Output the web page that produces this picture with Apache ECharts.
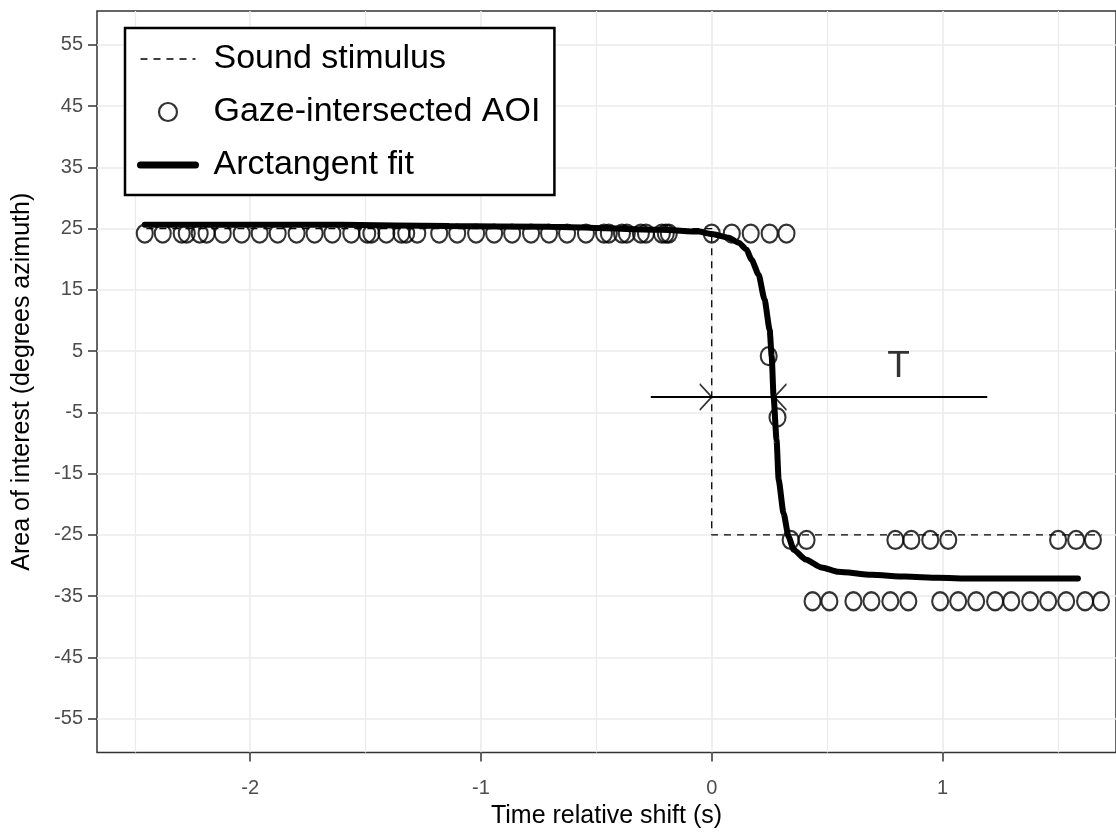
<!DOCTYPE html>
<html>
<head>
<meta charset="utf-8">
<script src="https://cdn.jsdelivr.net/npm/echarts@6/dist/echarts.min.js"></script>
<style>
  html, body { margin: 0; padding: 0; background: #fff; }
  #chart { width: 1116px; height: 837px; }
</style>
</head>
<body>
<div id="chart"></div>
<script>
// sound stimulus (step from +25 to -25 at t = 0)
var stimTime = [-2.45, 0, 0, 1.69];
var stimAoi = [25, 25, -25, -25];

// gaze-intersected AOI samples
var gazeTime = [
    -2.457, -2.379, -2.297, -2.275, -2.219, -2.189, -2.119, -2.037, -1.959, -1.881,
    -1.799, -1.721, -1.644, -1.562, -1.493, -1.475, -1.410, -1.345, -1.324, -1.276,
    -1.181, -1.103, -1.021, -0.943, -0.865, -0.783, -0.705, -0.627, -0.545, -0.467,
    -0.446, -0.389, -0.368, -0.307, -0.285, -0.216, -0.199, -0.186,
    0.000, 0.087, 0.169, 0.251, 0.324,
    0.247, 0.285,
    0.342, 0.411, 0.796, 0.865, 0.947, 1.025, 1.501, 1.579, 1.652,
    0.437, 0.510, 0.614, 0.692, 0.774, 0.852, 0.990, 1.068, 1.146, 1.228,
    1.298, 1.380, 1.458, 1.536, 1.618, 1.687
];
var gazeAoi = [
    25, 25, 25, 25, 25, 25, 25, 25, 25, 25,
    25, 25, 25, 25, 25, 25, 25, 25, 25, 25,
    25, 25, 25, 25, 25, 25, 25, 25, 25, 25,
    25, 25, 25, 25, 25, 25, 25, 25,
    25, 25, 25, 25, 25,
    5, -5,
    -25, -25, -25, -25, -25, -25, -25, -25, -25,
    -35, -35, -35, -35, -35, -35, -35, -35, -35, -35,
    -35, -35, -35, -35, -35, -35
];

// arctangent fit
var fitTime = [-2.457, -1.6, -1.138, -0.705, -0.216, -0.056, 0, 0.074, 0.117, 0.150, 0.173, 0.203,
    0.229, 0.251, 0.260, 0.268, 0.281, 0.290, 0.311, 0.333, 0.355, 0.407, 0.476, 0.549,
    0.692, 0.839, 0.982, 1.125, 1.587];
var fitAoi = [25.6, 25.6, 25.4, 25.3, 24.8, 24.5, 24.1, 23.5, 22.7, 21.6, 19.9, 17.5,
    13.4, 8.5, 4.1, -2.4, -9.5, -16.0, -21.4, -25.3, -27.4, -29.0, -30.3, -31.0,
    -31.5, -31.8, -32.0, -32.1, -32.1];

// lag annotation T
var lagLineTime = [-0.264, 1.194];
var lagLevel = -2.5;
var lagTips = [0, 0.272];
var lagLabelPos = [0.81, 2.4];

var xTicks = [-2, -1, 0, 1];
var yTicks = [-55, -45, -35, -25, -15, -5, 5, 15, 25, 35, 45, 55];

var FONT = '"Liberation Sans", Arial, Helvetica, sans-serif';

function pairs(xs, ys) {
    return xs.map(function (x, i) { return [x, ys[i]]; });
}

var chart = echarts.init(document.getElementById('chart'));

var option = {
    animation: false,
    backgroundColor: '#fff',
    textStyle: { fontFamily: FONT },
    grid: {
        left: 97, right: -2, top: 11, bottom: 84.5,
        show: true, borderColor: '#333333', borderWidth: 1.5,
        backgroundColor: '#fff'
    },
    xAxis: {
        type: 'value',
        min: -2.664, max: 1.752,
        minInterval: 1, maxInterval: 1,
        name: 'Time relative shift (s)',
        nameLocation: 'middle',
        nameGap: 44,
        nameTextStyle: { fontSize: 25, color: '#000', fontFamily: FONT },
        axisLine: { show: false, onZero: false },
        axisTick: { show: true, length: 9, customValues: xTicks, lineStyle: { color: '#333', width: 1.5 } },
        axisLabel: { customValues: xTicks, fontSize: 20, color: '#4D4D4D', margin: 26, fontFamily: FONT },
        splitLine: { show: true, lineStyle: { color: '#EBEBEB', width: 1.6 } },
        minorTick: { show: false, splitNumber: 2 },
        minorSplitLine: { show: true, lineStyle: { color: '#EBEBEB', width: 1.2 } }
    },
    yAxis: {
        type: 'value',
        min: -60.5, max: 60.5,
        name: 'Area of interest (degrees azimuth)',
        nameLocation: 'middle',
        nameGap: 62,
        nameTextStyle: { fontSize: 25, color: '#000', fontFamily: FONT },
        axisLine: { show: false, onZero: false },
        axisTick: { show: true, length: 9, customValues: yTicks, lineStyle: { color: '#333', width: 1.5 } },
        axisLabel: { customValues: yTicks, fontSize: 20, color: '#4D4D4D', margin: 14, fontFamily: FONT },
        splitLine: { show: true, lineStyle: { color: '#EBEBEB', width: 1.6 } }
    },
    legend: {
        orient: 'vertical',
        left: 125, top: 28,
        padding: [11, 14, 10, 12],
        itemGap: 13,
        itemWidth: 55, itemHeight: 18,
        borderColor: '#000', borderWidth: 2.5, borderRadius: 0,
        backgroundColor: '#fff',
        selectedMode: false,
        textStyle: { fontSize: 34, color: '#000', lineHeight: 40, padding: [0, 0, 0, 13], fontFamily: FONT },
        data: [
            { name: 'Sound stimulus', itemStyle: { color: 'rgba(0,0,0,0)', borderWidth: 0 },
              lineStyle: { color: '#000', width: 1.3, type: [7, 6] } },
            { name: 'Gaze-intersected AOI', itemStyle: { color: 'rgba(0,0,0,0)', borderColor: '#000', borderWidth: 2.2 } },
            { name: 'Arctangent fit', itemStyle: { color: 'rgba(0,0,0,0)', borderWidth: 0 },
              lineStyle: { color: '#000', width: 7, type: 'solid' } }
        ]
    },
    series: [
        {
            name: 'Sound stimulus',
            type: 'line',
            data: pairs(stimTime, stimAoi),
            symbol: 'none',
            lineStyle: { color: '#000', width: 1.3, type: [7, 6] },
            itemStyle: { color: '#000' },
            z: 2
        },
        {
            name: 'Gaze-intersected AOI',
            type: 'scatter',
            data: pairs(gazeTime, gazeAoi),
            symbol: 'circle',
            symbolSize: [16, 18],
            symbolOffset: [0, 5],
            itemStyle: { color: 'rgba(0,0,0,0)', borderColor: '#000', borderWidth: 2.2 },
            z: 3
        },
        {
            name: 'Arctangent fit',
            type: 'line',
            data: pairs(fitTime, fitAoi),
            symbol: 'none',
            smooth: 0.2,
            smoothMonotone: 'x',
            lineStyle: { color: '#000', width: 6, cap: 'round' },
            itemStyle: { color: '#000' },
            z: 4
        },
        {
            name: 'lag',
            type: 'line',
            data: lagLineTime.map(function (t) { return [t, lagLevel]; }),
            symbol: 'none',
            lineStyle: { color: '#000', width: 2 },
            z: 5
        },
        {
            name: 'lagTips',
            type: 'scatter',
            data: [
                { value: [lagTips[0], lagLevel], symbol: 'path://M0,0 L12,13 L0,26', symbolOffset: [-6, 0] },
                { value: [lagTips[1], lagLevel], symbol: 'path://M12,0 L0,13 L12,26', symbolOffset: [6, 0] }
            ],
            symbolSize: [12, 26],
            itemStyle: { color: 'rgba(0,0,0,0)', borderColor: '#000', borderWidth: 1.6 },
            z: 5
        },
        {
            name: 'lagLabel',
            type: 'scatter',
            data: [lagLabelPos],
            symbolSize: 1,
            itemStyle: { color: 'rgba(0,0,0,0)' },
            label: { show: true, position: 'inside', formatter: 'T', fontSize: 37, color: '#000', fontFamily: FONT },
            z: 5
        }
    ]
};

chart.setOption(option);
</script>
</body>
</html>
